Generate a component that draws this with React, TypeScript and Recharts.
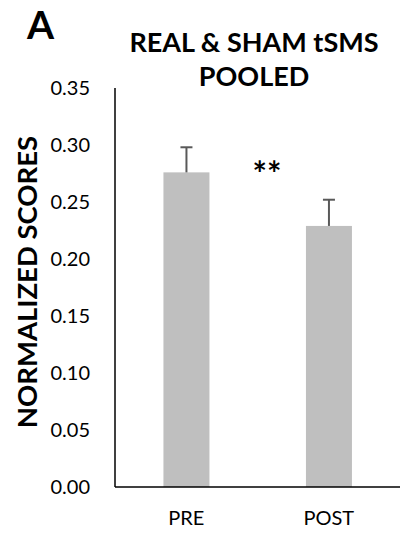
import React from 'react';
import { BarChart, Bar, XAxis, YAxis } from 'recharts';

const categories = ['PRE', 'POST'];
const meanScores = [0.276, 0.229];
const semScores = [0.022, 0.023];
const yTicks = [0, 0.05, 0.1, 0.15, 0.2, 0.25, 0.3, 0.35];
const titleLines = ['REAL & SHAM tSMS', 'POOLED'];
const panelLabel = 'A';
const yLabel = 'NORMALIZED SCORES';
const significance = '**';

const data = categories.map((c, i) => ({ name: c, value: meanScores[i], err: semScores[i] }));

const FONT = 'Lato, "Open Sans", sans-serif';

const BarWithError = (props: any) => {
  const { x, y, width, height, payload } = props;
  const v = payload.value;
  const pxPerUnit = height / v;
  const errPx = payload.err * pxPerUnit;
  const cx = x + width / 2;
  return (
    <g>
      <rect x={x} y={y} width={width} height={height} fill="#bfbfbf" />
      <line x1={cx} y1={y} x2={cx} y2={y - errPx} stroke="#595959" strokeWidth={2} />
      <line x1={cx - 6} y1={y - errPx} x2={cx + 6} y2={y - errPx} stroke="#595959" strokeWidth={2} />
    </g>
  );
};

export default function App() {
  return (
    <div style={{ position: 'absolute', left: 0, top: 0, width: 400, height: 535, background: '#fff', fontFamily: FONT }}>
      <BarChart width={400} height={535} data={data} margin={{ top: 88, right: 0, left: 0, bottom: 0 }} barCategoryGap="34%">
        <XAxis
          dataKey="name"
          height={48}
          tickLine={false}
          tickSize={0}
          tickMargin={24}
          axisLine={{ stroke: '#000', strokeWidth: 1.5 }}
          tick={{ fill: '#000', fontSize: 20, fontFamily: FONT }}
        />
        <YAxis
          width={115}
          domain={[0, 0.35]}
          ticks={yTicks}
          interval={0}
          tickFormatter={(v: number) => v.toFixed(2)}
          tickLine={false}
          tickSize={0}
          tickMargin={25}
          axisLine={{ stroke: '#000', strokeWidth: 1.5 }}
          tick={{ fill: '#000', fontSize: 20, fontFamily: FONT }}
        />
        <Bar dataKey="value" isAnimationActive={false} shape={BarWithError} />
      </BarChart>
      <svg width={400} height={535} style={{ position: 'absolute', left: 0, top: 0, pointerEvents: 'none' }}>
        <text x={27} y={39} fontSize={39} fontWeight="bold" fontFamily={FONT} fill="#000">{panelLabel}</text>
        <text x={254} y={52} fontSize={27} fontWeight="bold" fontFamily={FONT} fill="#000" textAnchor="middle">{titleLines[0]}</text>
        <text x={254} y={86} fontSize={27} fontWeight="bold" fontFamily={FONT} fill="#000" textAnchor="middle">{titleLines[1]}</text>
        <text x={267} y={186} fontSize={34} fontWeight="bold" fontFamily={FONT} fill="#000" textAnchor="middle">{significance}</text>
        <text transform="translate(37,282) rotate(-90)" x={0} y={0} fontSize={27.5} fontWeight="bold" fontFamily={FONT} fill="#000" textAnchor="middle">{yLabel}</text>
      </svg>
    </div>
  );
}
